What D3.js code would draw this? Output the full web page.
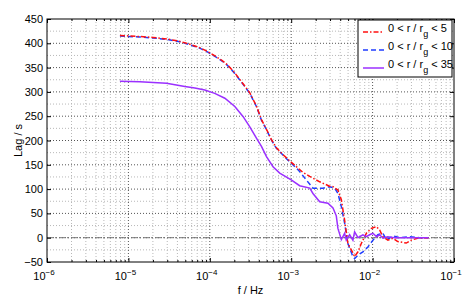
<!DOCTYPE html>
<html><head><meta charset="utf-8">
<script src="https://cdn.jsdelivr.net/npm/d3@7"></script>
<style>body{margin:0;background:#fff} text{font-family:"Liberation Sans",Arial,Helvetica,sans-serif;fill:#000}</style>
</head><body><svg id="c" width="463" height="299"></svg>
<script>
// ---- data ----
const yTicks = [-50, 0, 50, 100, 150, 200, 250, 300, 350, 400, 450];
const xTickExps = [-6, -5, -4, -3, -2, -1];
const legendLabels = ["5", "10", "35"];

const freqBlue = [7.87e-6,1.38e-5,2.00e-5,2.96e-5,4.28e-5,5.69e-5,7.53e-5,9.45e-5,1.21e-4,1.46e-4,1.66e-4,2.03e-4,2.69e-4,3.10e-4,3.74e-4,4.31e-4,4.97e-4,5.72e-4,6.58e-4,7.93e-4,9.59e-4,1.16e-3,1.27e-3,1.53e-3,1.85e-3,2.45e-3,2.96e-3,3.42e-3,3.75e-3,4.13e-3,4.53e-3,4.97e-3,5.64e-3,6.01e-3,6.61e-3,7.60e-3,8.75e-3,1.01e-2,1.16e-2,1.34e-2,1.47e-2,1.62e-2,1.77e-2,2.14e-2,2.84e-2,3.78e-2,4.86e-2];
const lagBlue  = [415,413,411,408,403,397,390,382,371,362,354,338,311,297,270,242,222,201,184,170,156,143,136,119,102,102,105,102,91,64,30,-12,-36,-43,-36,-29,-19,-5,6,9,-4,-1,4,0,2,0,0];

const freqRed = [7.87e-6,1.38e-5,2.00e-5,2.96e-5,4.28e-5,5.69e-5,7.53e-5,9.45e-5,1.21e-4,1.46e-4,1.66e-4,2.03e-4,2.69e-4,3.10e-4,3.74e-4,4.31e-4,4.97e-4,5.72e-4,6.58e-4,7.93e-4,9.59e-4,1.16e-3,1.38e-3,1.69e-3,2.24e-3,2.96e-3,3.26e-3,3.75e-3,4.13e-3,4.53e-3,4.97e-3,5.64e-3,6.01e-3,6.61e-3,7.26e-3,8.37e-3,9.64e-3,1.11e-2,1.22e-2,1.34e-2,1.54e-2,1.77e-2,2.04e-2,2.59e-2,2.99e-2,3.56e-2,4.86e-2];
const lagRed  = [416,414,412,409,404,398,391,383,372,363,355,339,312,298,271,243,223,202,185,171,158,146,135,126,115,106,105,98,78,36,-12,-29,-39,-29,-12,9,19,23,16,2,-5,-1,-8,-11,-5,-1,0];

const freqPurple = [7.87e-6,1.38e-5,2.94e-5,4.93e-5,6.55e-5,8.69e-5,1.15e-4,1.53e-4,2.03e-4,2.57e-4,3.10e-4,3.74e-4,4.31e-4,4.97e-4,5.98e-4,7.23e-4,1.00e-3,1.27e-3,1.69e-3,1.85e-3,2.24e-3,2.83e-3,3.26e-3,3.58e-3,3.75e-3,4.13e-3,4.53e-3,4.75e-3,5.22e-3,5.73e-3,6.01e-3,6.61e-3,7.60e-3,8.37e-3,9.19e-3,1.01e-2,1.12e-2,1.22e-2,1.34e-2,1.53e-2,1.86e-2,4.86e-2];
const lagPurple  = [322,321,318,311,308,304,297,287,270,249,228,205,188,167,146,133,119,107,102,91,74,71,61,45,19,-4,9,-5,6,-5,12,0,6,2,6,9,2,6,-1,2,0,0];

// ---- layout ----
const svg = d3.select("#c");
const L = 47, R = 454, T = 19, B = 262;
const x = d3.scaleLog().domain([1e-6, 1e-1]).range([L, R]);
const y = d3.scaleLinear().domain([-50, 450]).range([B, T]);

// grid
const g = svg.append("g");
const minorX = [];
for (let e = -6; e < -1; e++) for (let k = 2; k <= 9; k++) minorX.push(k * Math.pow(10, e));
minorX.forEach(v => g.append("line").attr("x1", x(v)).attr("x2", x(v)).attr("y1", T).attr("y2", B)
  .attr("stroke", "#b8b8b8").attr("stroke-dasharray", "1,2"));
const minorY = d3.range(-25, 450, 50);
minorY.forEach(v => g.append("line").attr("x1", L).attr("x2", R).attr("y1", y(v)).attr("y2", y(v))
  .attr("stroke", "#b8b8b8").attr("stroke-dasharray", "1,2"));
xTickExps.slice(1, -1).forEach(e => g.append("line").attr("x1", x(Math.pow(10, e))).attr("x2", x(Math.pow(10, e)))
  .attr("y1", T).attr("y2", B).attr("stroke", "#555").attr("stroke-dasharray", "1,2"));
yTicks.slice(1, -1).forEach(v => g.append("line").attr("x1", L).attr("x2", R).attr("y1", y(v)).attr("y2", y(v))
  .attr("stroke", "#555").attr("stroke-dasharray", "1,2"));

// zero reference line
svg.append("line").attr("x1", L).attr("x2", R).attr("y1", y(0)).attr("y2", y(0))
  .attr("stroke", "#777").attr("stroke-width", 1).attr("stroke-dasharray", "6,2,2,2");

// axes with inward ticks
const axB = d3.axisBottom(x).tickValues(xTickExps.map(e => Math.pow(10, e))).tickSizeInner(-4).tickSizeOuter(0).tickFormat("");
const axT = d3.axisTop(x).tickValues(xTickExps.map(e => Math.pow(10, e))).tickSizeInner(-4).tickSizeOuter(0).tickFormat("");
const axBm = d3.axisBottom(x).tickValues(minorX).tickSizeInner(-2).tickSizeOuter(0).tickFormat("");
const axTm = d3.axisTop(x).tickValues(minorX).tickSizeInner(-2).tickSizeOuter(0).tickFormat("");
const axL = d3.axisLeft(y).tickValues(yTicks).tickSizeInner(-4).tickSizeOuter(0).tickFormat("");
const axR = d3.axisRight(y).tickValues(yTicks).tickSizeInner(-4).tickSizeOuter(0).tickFormat("");
[[axB, B], [axBm, B], [axT, T], [axTm, T]].forEach(([a, p]) => svg.append("g").attr("transform", `translate(0,${p})`).call(a)
  .call(s => { s.select(".domain").remove(); s.selectAll("line").attr("stroke", "#000"); }));
[[axL, L], [axR, R]].forEach(([a, p]) => svg.append("g").attr("transform", `translate(${p},0)`).call(a)
  .call(s => { s.select(".domain").remove(); s.selectAll("line").attr("stroke", "#000"); }));
svg.append("rect").attr("x", L).attr("y", T).attr("width", R - L).attr("height", B - T)
  .attr("fill", "none").attr("stroke", "#000").attr("stroke-width", 1);

// tick labels
yTicks.forEach(v => svg.append("text").attr("x", L - 4).attr("y", y(v) + 4).attr("text-anchor", "end")
  .attr("font-size", 11).text(v < 0 ? "\u2212" + Math.abs(v) : v));
xTickExps.forEach(e => {
  const t = svg.append("text").attr("x", x(Math.pow(10, e)) - 3).attr("y", B + 18).attr("text-anchor", "middle").attr("font-size", 11);
  t.append("tspan").text("10");
  t.append("tspan").attr("dy", -5).attr("font-size", 8).text("\u2212" + Math.abs(e));
});
svg.append("text").attr("x", (L + R) / 2).attr("y", B + 32).attr("text-anchor", "middle").attr("font-size", 11).text("f / Hz");
svg.append("text").attr("transform", `translate(22,${(T + B) / 2}) rotate(-90)`).attr("text-anchor", "middle").attr("font-size", 11).text("Lag / s");

// curves
const line = d3.line().x(d => x(d[0])).y(d => y(d[1]));
const series = [
  {f: freqPurple, v: lagPurple, color: "#9b30ff", dash: null},
  {f: freqBlue, v: lagBlue, color: "#1f3dff", dash: "5,3"},
  {f: freqRed, v: lagRed, color: "#ff1010", dash: "5,2,1.5,2"}
];
const plot = svg.append("g");
[series[1], series[2], series[0]].forEach(s => plot.append("path").datum(s.f.map((f, i) => [f, s.v[i]]))
  .attr("d", line).attr("fill", "none").attr("stroke", s.color).attr("stroke-width", 1.5)
  .attr("stroke-dasharray", s.dash));

// legend
const lg = svg.append("g");
lg.append("rect").attr("x", 358).attr("y", 20).attr("width", 94).attr("height", 57).attr("fill", "#fff").attr("stroke", "#000");
const legOrder = [series[2], series[1], series[0]];
legOrder.forEach((s, i) => {
  const yy = 32 + i * 18;
  lg.append("line").attr("x1", 363).attr("x2", 384).attr("y1", yy).attr("y2", yy)
    .attr("stroke", s.color).attr("stroke-width", 1.5).attr("stroke-dasharray", s.dash);
  const t = lg.append("text").attr("x", 388).attr("y", yy).attr("font-size", 11);
  t.append("tspan").text("0 < r / r");
  t.append("tspan").attr("dy", 5).attr("font-size", 9).text("g");
  t.append("tspan").attr("dy", -5).text(" < " + legendLabels[i]);
});
</script></body></html>
